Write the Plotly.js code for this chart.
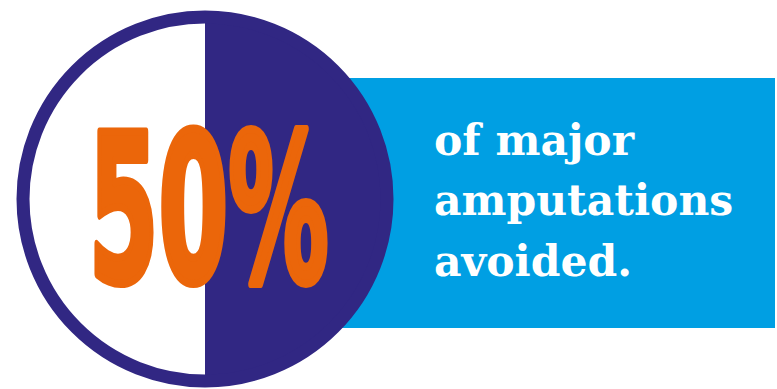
<!DOCTYPE html>
<html>
<head>
<meta charset="utf-8">
<script src="https://cdn.plot.ly/plotly-3.0.1.min.js"></script>
<style>html,body{margin:0;padding:0;background:#fff;}#chart{width:777px;height:389px;}</style>
</head>
<body>
<div id="chart"></div>
<script>
// Data
const sliceLabels = ["Major amputations avoided", "Not avoided"];
const sliceValues = [50, 50];
const bigLabel = "50%";
const captionLines = ["of major", "amputations", "avoided."];

const PURPLE = "#312783", BLUE = "#009FE3", ORANGE = "#EB660A", WHITE = "#FFFFFF";
const W = 777, H = 389;
const px = x => x / W;
const py = y => 1 - y / H;

const cx = 205, cy = 199, rFill = 178, rRing = 182;

const trace = {
  type: "pie",
  labels: sliceLabels,
  values: sliceValues,
  sort: false,
  direction: "clockwise",
  rotation: 0,
  marker: {colors: [PURPLE, WHITE], line: {width: 0}},
  textinfo: "none",
  hoverinfo: "skip",
  showlegend: false,
  domain: {x: [px(cx - rFill), px(cx + rFill)], y: [py(cy + rFill), py(cy - rFill)]}
};

const annotations = [{
  text: bigLabel, x: px(208), y: py(210), xref: "paper", yref: "paper",
  xanchor: "center", yanchor: "middle", showarrow: false,
  font: {family: "DejaVu Sans", size: 100, color: ORANGE, weight: 700}
}];
const lineY = [140, 200, 261];
captionLines.forEach((t, i) => annotations.push({
  text: "<b>" + t + "</b>", x: px(432), y: py(lineY[i]), xref: "paper", yref: "paper",
  xanchor: "left", yanchor: "middle", showarrow: false,
  font: {family: "DejaVu Serif", size: 42.5, color: WHITE}
}));

const layout = {
  width: W, height: H,
  margin: {l: 0, r: 0, t: 0, b: 0},
  paper_bgcolor: WHITE, plot_bgcolor: WHITE,
  shapes: [
    {type: "rect", layer: "below", xref: "paper", yref: "paper",
     x0: px(330), x1: px(775), y0: py(328), y1: py(78),
     fillcolor: BLUE, line: {width: 0}},
    {type: "circle", layer: "above", xref: "paper", yref: "paper",
     x0: px(cx - rRing), x1: px(cx + rRing), y0: py(cy + rRing), y1: py(cy - rRing),
     fillcolor: "rgba(0,0,0,0)", line: {color: PURPLE, width: 13}}
  ],
  annotations: annotations
};

Plotly.newPlot("chart", [trace], layout, {displayModeBar: false, staticPlot: true}).then(() => {
  const t = document.querySelector(".annotation[data-index='0'] text.annotation-text");
  if (t) {
    const b = t.getBBox();
    const bx = b.x + b.width / 2, by = b.y + b.height / 2;
    const sx = 240 / b.width, sy = 160 / 78;
    t.setAttribute("transform", `translate(${bx},${by}) scale(${sx},${sy}) translate(${-bx},${-by})`);
    t.style.stroke = ORANGE;
    t.style.strokeWidth = "4px";
    t.style.strokeLinejoin = "round";
  }
});
</script>
</body>
</html>
